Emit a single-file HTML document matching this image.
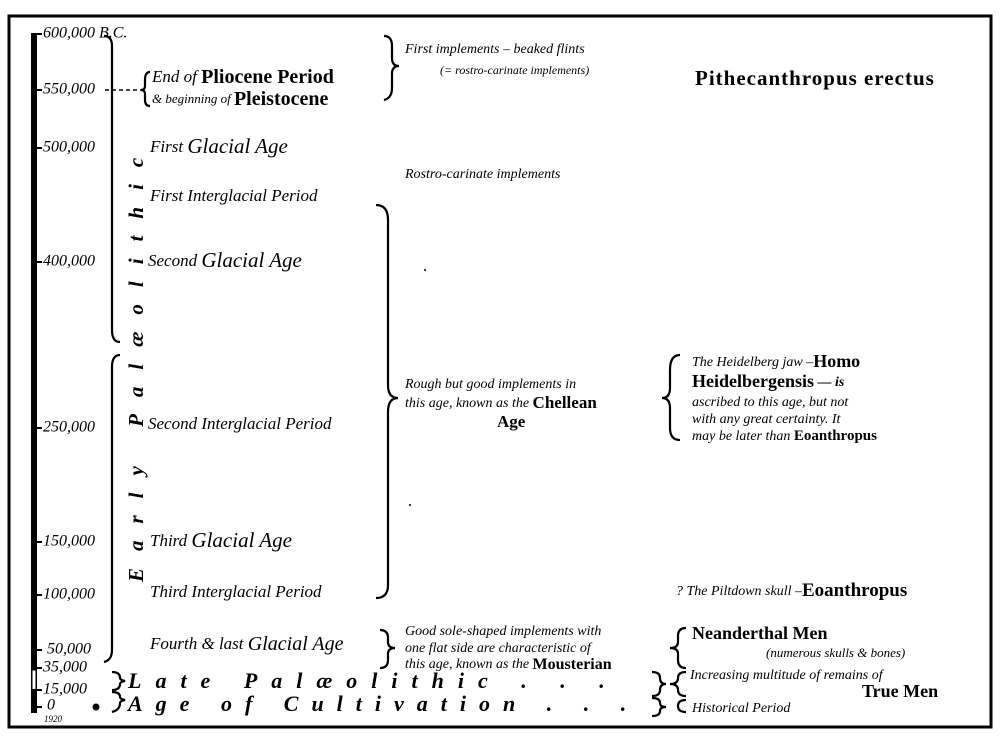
<!DOCTYPE html>
<html><head><meta charset="utf-8"><style>
html,body{margin:0;padding:0;background:#fff;}
svg{display:block}
text{font-family:"Liberation Serif",serif;font-style:italic;fill:#000;dominant-baseline:middle}
.b{font-weight:bold;font-style:normal}
</style></head><body>
<svg width="1000" height="738" viewBox="0 0 1000 738" xmlns="http://www.w3.org/2000/svg">
<rect x="9" y="16" width="982" height="711" fill="none" stroke="#000" stroke-width="3"/>
<rect x="31" y="33" width="6" height="680" fill="#000"/>
<rect x="32" y="670" width="4" height="20" fill="#fff" stroke="#000" stroke-width="1"/>
<g stroke="#000" stroke-width="2">
<line x1="31" y1="34" x2="42" y2="34"/><line x1="31" y1="90" x2="42" y2="90"/>
<line x1="31" y1="148" x2="42" y2="148"/><line x1="31" y1="262" x2="42" y2="262"/>
<line x1="31" y1="428" x2="42" y2="428"/><line x1="31" y1="542" x2="42" y2="542"/>
<line x1="31" y1="595" x2="42" y2="595"/><line x1="31" y1="650" x2="42" y2="650"/>
<line x1="31" y1="668" x2="42" y2="668"/><line x1="31" y1="690" x2="42" y2="690"/>
<line x1="31" y1="707" x2="42" y2="707"/>
</g>
<line x1="105" y1="90" x2="145" y2="90" stroke="#000" stroke-width="1.5" stroke-dasharray="4,3"/>
<g fill="none" stroke="#000" stroke-width="2.2">
<path d="M104 36 Q112 36 112 46 L112 330 Q112 342 120 342"/>
<path d="M120 355 Q112 355 112 367 L112 650 Q112 660 104 662"/>
<path d="M150 72 Q145 72 145 80 L145 86 Q145 90 141 90 Q145 90 145 94 L145 100 Q145 106 150 106"/>
<path d="M384 36 Q392 36 392 46 L392 58 Q392 66 399 66 Q392 66 392 74 L392 88 Q392 98 384 100"/>
<path d="M376 205 Q388 205 388 220 L388 385 Q388 398 398 398 Q388 398 388 412 L388 585 Q388 598 376 598"/>
<path d="M380 630 Q388 630 388 638 L388 642 Q388 648 395 648 Q388 648 388 654 L388 660 Q388 668 380 668"/>
<path d="M680 355 Q670 355 670 370 L670 388 Q670 398 662 398 Q670 398 670 408 L670 428 Q670 440 680 440"/>
<path d="M686 628 Q678 628 678 636 L678 642 Q678 648 670 648 Q678 648 678 654 L678 660 Q678 668 686 668"/>
<path d="M686 672 Q678 672 678 678 Q678 684 670 684 Q678 684 678 690 Q678 696 686 696"/>
<path d="M686 700 Q678 700 678 706 Q678 712 686 712"/>
<path d="M112 672 Q120 672 120 678 Q120 680 125 681 Q120 682 120 684 Q120 690 112 690"/>
<path d="M112 692 Q120 692 120 697 Q120 699 125 700 Q120 701 120 703 Q120 710 112 712"/>
<path d="M652 672 Q660 672 660 678 Q660 684 666 684 Q660 684 660 690 Q660 696 652 696"/>
<path d="M652 698 Q660 698 660 703 Q660 707 666 707 Q660 707 660 711 Q660 716 652 716"/>
</g>
<circle cx="96" cy="707" r="3.5" fill="#000"/>
<g font-size="16">
<text x="43" y="34">600,000 B.C.</text>
<text x="43" y="90">550,000</text>
<text x="43" y="148">500,000</text>
<text x="43" y="262">400,000</text>
<text x="43" y="428">250,000</text>
<text x="43" y="542">150,000</text>
<text x="43" y="595">100,000</text>
<text x="47" y="650">50,000</text>
<text x="43" y="668">35,000</text>
<text x="43" y="690">15,000</text>
<text x="47" y="706">0</text>
</g>
<text x="44" y="720" font-size="9">1920</text>
<text transform="translate(138,582) rotate(-90)" font-size="21" letter-spacing="17" class="b" style="font-style:italic">Early Palæolithic</text>
<g font-size="17">
<text x="152" y="78">End of <tspan class="b" font-size="20">Pliocene Period</tspan></text>
<text x="152" y="100" font-size="13">&amp; beginning of <tspan class="b" font-size="20">Pleistocene</tspan></text>
<text x="150" y="148">First <tspan font-size="21">Glacial Age</tspan></text>
<text x="150" y="197">First Interglacial Period</text>
<text x="148" y="262">Second <tspan font-size="21">Glacial Age</tspan></text>
<text x="148" y="425">Second Interglacial Period</text>
<text x="150" y="542">Third <tspan font-size="21">Glacial Age</tspan></text>
<text x="150" y="593">Third Interglacial Period</text>
<text x="150" y="645">Fourth &amp; last <tspan font-size="20">Glacial Age</tspan></text>
</g>
<text x="128" y="683" font-size="22" font-weight="bold" letter-spacing="14">Late Palæolithic . . .</text>
<text x="128" y="706" font-size="22" font-weight="bold" letter-spacing="13">Age of Cultivation . . .</text>
<g font-size="14">
<text x="405" y="50">First implements – beaked flints</text>
<text x="440" y="71" font-size="12">(= rostro-carinate implements)</text>
<text x="405" y="175">Rostro-carinate implements</text>
<text x="405" y="385">Rough but good implements in</text>
<text x="405" y="404">this age, known as the <tspan class="b" font-size="17">Chellean</tspan></text>
<text x="497" y="423" class="b" font-size="17">Age</text>
<text x="405" y="632">Good sole-shaped implements with</text>
<text x="405" y="649">one flat side are characteristic of</text>
<text x="405" y="665">this age, known as the <tspan class="b" font-size="16">Mousterian</tspan></text>
</g>
<text x="695" y="80" class="b" font-size="21" letter-spacing="1">Pithecanthropus erectus</text>
<g font-size="14">
<text x="692" y="363">The Heidelberg jaw –<tspan class="b" font-size="18">Homo</tspan></text>
<text x="692" y="383" class="b" font-size="18">Heidelbergensis<tspan font-size="14" style="font-style:italic"> — is</tspan></text>
<text x="692" y="403">ascribed to this age, but not</text>
<text x="692" y="420">with any great certainty.  It</text>
<text x="692" y="437">may be later than <tspan class="b" font-size="15">Eoanthropus</tspan></text>
<text x="676" y="592">?  The Piltdown skull –<tspan class="b" font-size="19">Eoanthropus</tspan></text>
<text x="692" y="635" class="b" font-size="18">Neanderthal Men</text>
<text x="766" y="654" font-size="13">(numerous skulls &amp; bones)</text>
<text x="690" y="676">Increasing multitude of remains of</text>
<text x="862" y="693" class="b" font-size="18">True Men</text>
<text x="692" y="709">Historical Period</text>
</g>
<circle cx="425" cy="270" r="1" fill="#000"/><circle cx="410" cy="505" r="1" fill="#000"/>
</svg>
</body></html>
